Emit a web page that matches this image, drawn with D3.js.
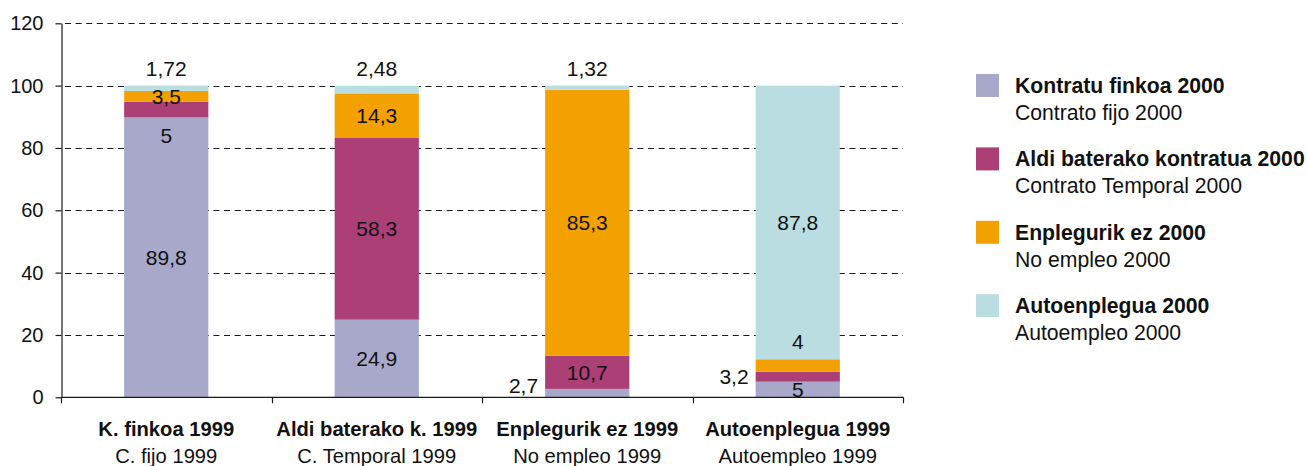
<!DOCTYPE html>
<html>
<head>
<meta charset="utf-8">
<script src="https://cdn.jsdelivr.net/npm/d3@7"></script>
<style>
  html, body { margin: 0; padding: 0; background: #fff; }
  svg { display: block; font-family: "Liberation Sans", Arial, sans-serif; }
</style>
</head>
<body>
<svg id="chart" width="1308" height="466"></svg>
<script>
// ---- data ----
const categoriesEu = ["K. finkoa 1999", "Aldi baterako k. 1999", "Enplegurik ez 1999", "Autoenplegua 1999"];
const categoriesEs = ["C. fijo 1999", "C. Temporal 1999", "No empleo 1999", "Autoempleo 1999"];
const seriesEu = ["Kontratu finkoa 2000", "Aldi baterako kontratua 2000", "Enplegurik ez 2000", "Autoenplegua 2000"];
const seriesEs = ["Contrato fijo 2000", "Contrato Temporal 2000", "No empleo 2000", "Autoempleo 2000"];
const fijo2000      = [89.8, 24.9, 2.7, 5];
const temporal2000  = [5, 58.3, 10.7, 3.2];
const noEmpleo2000  = [3.5, 14.3, 85.3, 4];
const autoempleo2000 = [1.72, 2.48, 1.32, 87.8];
const labelText = [
  ["89,8", "24,9", "2,7", "5"],
  ["5", "58,3", "10,7", "3,2"],
  ["3,5", "14,3", "85,3", "4"],
  ["1,72", "2,48", "1,32", "87,8"]
];
// label placement mode per series / category
const labelMode = [
  ["c", "c", "left", "c"],
  ["below", "c", "c", "left"],
  ["c", "c", "c", "above"],
  ["top", "top", "top", "c"]
];
const yTicks = [0, 20, 40, 60, 80, 100, 120];
const colors = ["#a8a8cb", "#ab3f76", "#f2a100", "#b9dde1"];

// ---- layout ----
const svg = d3.select("#chart");
const x0 = 61, x1 = 903, yTop = 23.3, yBot = 397.3;
const x = d3.scaleBand().domain(categoriesEu).range([x0, x1]).paddingInner(0.6).paddingOuter(0.3);
const y = d3.scaleLinear().domain([0, 120]).range([yBot, yTop]);
const step = x.step();

const seriesVals = [fijo2000, temporal2000, noEmpleo2000, autoempleo2000];
const rows = categoriesEu.map((c, i) => {
  const r = { cat: c };
  seriesEu.forEach((s, j) => r[s] = seriesVals[j][i]);
  return r;
});
const stacked = d3.stack().keys(seriesEu)(rows);

// gridlines
svg.append("g").selectAll("line").data(yTicks.filter(t => t > 0)).join("line")
  .attr("x1", x0 + 4).attr("x2", x1)
  .attr("y1", d => Math.round(y(d)) + 0.5).attr("y2", d => Math.round(y(d)) + 0.5)
  .attr("stroke", "#1a1a1a").attr("stroke-width", 1.2).attr("stroke-dasharray", "6,4.6");

// bars
stacked.forEach((layer, j) => {
  svg.append("g").attr("fill", colors[j]).selectAll("rect").data(layer).join("rect")
    .attr("x", d => x(d.data.cat))
    .attr("width", x.bandwidth())
    .attr("y", d => y(d[1]))
    .attr("height", d => y(d[0]) - y(d[1]));
});

// y axis
const yAxis = svg.append("g").attr("transform", `translate(${x0 + 0.5},0)`)
  .call(d3.axisLeft(y).tickValues(yTicks).tickSize(6).tickSizeOuter(0).tickPadding(12));
yAxis.select(".domain").attr("stroke", "#1a1a1a").attr("stroke-width", 1.2);
yAxis.selectAll(".tick line").attr("stroke", "#1a1a1a").attr("stroke-width", 1.2);
yAxis.selectAll(".tick text").attr("font-size", 20).attr("fill", "#111")
  .attr("font-family", "Liberation Sans, Arial, sans-serif");

// x axis
svg.append("line").attr("x1", x0).attr("x2", x1 + 0.5).attr("y1", yBot).attr("y2", yBot)
  .attr("stroke", "#1a1a1a").attr("stroke-width", 1.3);
svg.append("g").selectAll("line").data(d3.range(categoriesEu.length + 1)).join("line")
  .attr("x1", i => Math.round(x0 + i * step) + 0.5).attr("x2", i => Math.round(x0 + i * step) + 0.5)
  .attr("y1", yBot).attr("y2", yBot + 6).attr("stroke", "#1a1a1a").attr("stroke-width", 1.2);

// category labels
const catG = svg.append("g").attr("text-anchor", "middle").attr("fill", "#111");
categoriesEu.forEach((c, i) => {
  const cx = x(c) + x.bandwidth() / 2;
  catG.append("text").attr("x", cx).attr("y", 436).attr("font-size", 20.2)
    .attr("font-weight", "bold").text(c);
  catG.append("text").attr("x", cx).attr("y", 462.5).attr("font-size", 20.2).text(categoriesEs[i]);
});

// data labels
const lblG = svg.append("g").attr("fill", "#111").attr("font-size", 21);
stacked.forEach((layer, j) => {
  layer.forEach((d, i) => {
    const mode = labelMode[j][i];
    const left = x(d.data.cat), cx = left + x.bandwidth() / 2;
    const yc = (y(d[0]) + y(d[1])) / 2;
    let tx = cx, ty = yc, anchor = "middle";
    if (mode === "top") { ty = y(d[1]) - 17; }
    else if (mode === "below") { ty = y(d[0]) + 18.5; }
    else if (mode === "above") { ty = y(d[1]) - 17.5; }
    else if (mode === "left") { tx = left - 7; anchor = "end"; ty = Math.min(yc, yBot - 12); }
    lblG.append("text").attr("x", tx).attr("y", ty).attr("dy", "0.36em")
      .attr("text-anchor", anchor).text(labelText[j][i]);
  });
});

// legend
const legG = svg.append("g").attr("fill", "#111");
seriesEu.forEach((s, j) => {
  const top = 74 + j * 73.4;
  legG.append("rect").attr("x", 976).attr("y", top).attr("width", 23).attr("height", 23).attr("fill", colors[j]);
  legG.append("text").attr("x", 1015).attr("y", top + 19).attr("font-size", 21.2).attr("font-weight", "bold").text(s);
  legG.append("text").attr("x", 1015).attr("y", top + 46).attr("font-size", 21.2).text(seriesEs[j]);
});
</script>
</body>
</html>
